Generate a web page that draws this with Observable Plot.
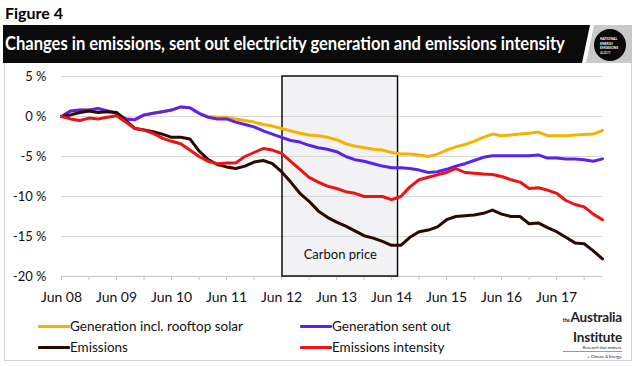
<!DOCTYPE html>
<html><head><meta charset="utf-8">
<script src="https://cdn.jsdelivr.net/npm/d3@7"></script>
<script src="https://cdn.jsdelivr.net/npm/@observablehq/plot@0.6"></script>
<style>
body{margin:0;background:#fff;font-family:Lato,"Open Sans",sans-serif;}
#root{position:relative;width:637px;height:366px;overflow:hidden;background:#fff;}
#fig{position:absolute;left:5px;top:3px;font-weight:700;font-size:16px;color:#000;}
#header{position:absolute;left:0;top:0;}
#title{position:absolute;left:5px;top:32px;font-weight:700;font-size:19px;color:#fff;white-space:nowrap;line-height:22px;transform-origin:0 50%;}
#box{position:absolute;left:4px;top:63px;width:628px;height:298px;border:1px solid #d4d4d4;border-top:none;box-sizing:border-box;}
#chart{position:absolute;left:0;top:63px;}
.leg{position:absolute;font-size:13.5px;color:#111;display:flex;align-items:center;white-space:nowrap;height:16px;}
.leg i{display:inline-block;width:32px;height:3px;border-radius:1px;}
#logo{position:absolute;right:15px;top:309px;text-align:right;color:#222;}
.big{font-size:13.5px;line-height:16.5px;font-weight:700;letter-spacing:-0.2px;white-space:nowrap;}
.small{font-size:4px;line-height:5px;white-space:nowrap;}
</style></head>
<body><div id="root">
<div id="fig">Figure 4</div>
<svg id="header" width="637" height="70">
  <polygon points="3,25 590,25 582,63 3,63" fill="#0b0b0b"/>
  <polygon points="594,25 632,25 632,63 586,63" fill="#c9c9c9"/>
  <circle cx="610" cy="45" r="16" fill="#0a0a0a"/>
  <g font-family="Lato" font-weight="700" font-size="3.4" fill="#fff">
    <text x="600" y="40">NATIONAL</text>
    <text x="600" y="44.6">ENERGY</text>
    <text x="600" y="49.2">EMISSIONS</text>
    <text x="600" y="53.8" fill="#f3b5a8">AUDIT</text>
  </g>
</svg>
<div id="title">Changes in emissions, sent out electricity generation and emissions intensity</div>
<div id="box"></div>
<div id="chart"></div>
<div id="legend"></div>
<div id="logo">
  <div class="big"><span style="font-size:5px;margin-right:1px">the</span>Australia</div>
  <div class="big">Institute</div>
  <div class="small" style="padding-bottom:1px;border-bottom:1px solid #999">Research that matters.</div>
  <div class="small" style="margin-top:2px">+ Climate &amp; Energy.</div>
</div>
</div>
<script>
// months since Jun 2008, sampled every 2 months (to Apr 2018)
const months = d3.range(0, 119, 2);
const genSolar = [0,0.7,0.8,0.8,1.0,0.7,0.4,-0.3,-0.4,0.2,0.4,0.6,0.8,1.2,1.1,0.4,0.0,-0.1,-0.1,-0.3,-0.5,-0.7,-1.0,-1.2,-1.5,-1.8,-2.1,-2.3,-2.4,-2.6,-2.9,-3.4,-3.7,-3.9,-4.1,-4.2,-4.5,-4.7,-4.7,-4.8,-5.0,-4.7,-4.2,-3.8,-3.5,-3.1,-2.6,-2.2,-2.4,-2.3,-2.2,-2.1,-1.95,-2.4,-2.4,-2.4,-2.3,-2.25,-2.2,-1.75];
const genSent = [0,0.7,0.8,0.8,1.0,0.7,0.4,-0.3,-0.4,0.2,0.4,0.6,0.8,1.2,1.1,0.4,-0.1,-0.3,-0.3,-0.7,-1.0,-1.3,-1.8,-2.2,-2.6,-3.0,-3.2,-3.6,-3.9,-4.1,-4.4,-5.0,-5.4,-5.6,-5.9,-6.2,-6.4,-6.4,-6.5,-6.7,-7.0,-6.9,-6.6,-6.2,-5.9,-5.5,-5.1,-4.9,-4.9,-4.9,-4.9,-4.9,-4.8,-5.2,-5.2,-5.3,-5.3,-5.4,-5.6,-5.3];
const emissions = [0,0.2,0.5,0.7,0.5,0.6,0.5,-0.5,-1.5,-1.7,-1.9,-2.2,-2.6,-2.6,-2.8,-4.3,-5.4,-6.0,-6.3,-6.5,-6.2,-5.7,-5.5,-5.9,-6.9,-8.2,-9.6,-10.6,-11.8,-12.6,-13.2,-13.7,-14.3,-14.9,-15.2,-15.6,-16.1,-16.1,-15.1,-14.4,-14.2,-13.8,-12.9,-12.5,-12.4,-12.3,-12.1,-11.7,-12.2,-12.5,-12.5,-13.4,-13.3,-13.9,-14.4,-15.1,-15.8,-15.9,-16.8,-17.8];
const intensity = [0,-0.3,-0.5,-0.2,-0.3,-0.1,0.1,-0.7,-1.5,-1.7,-2.1,-2.7,-3.1,-3.4,-4.2,-5.0,-5.6,-5.9,-5.8,-5.8,-5.0,-4.5,-4.0,-4.2,-4.6,-5.6,-6.6,-7.6,-8.2,-8.7,-9.0,-9.4,-9.6,-10.0,-10.0,-10.0,-10.4,-10.0,-8.8,-7.9,-7.6,-7.3,-7.0,-6.5,-7.0,-7.1,-7.2,-7.25,-7.5,-7.9,-8.2,-9.0,-8.9,-9.2,-9.6,-10.5,-11.0,-11.3,-12.2,-12.9];
const seriesNames = ["Generation incl. rooftop solar","Generation sent out","Emissions","Emissions intensity"];
const seriesColors = ["#f5b300","#5b22ef","#2a0a00","#ee1212"];
const yTicks = [5,0,-5,-10,-15,-20];
const xTickLabels = ["Jun 08","Jun 09","Jun 10","Jun 11","Jun 12","Jun 13","Jun 14","Jun 15","Jun 16","Jun 17"];
const carbonPrice = [{label:"Carbon price", start:48.2, end:73.4}];

// squeeze the title to the band's width (Calibri-like narrowness)
const title = document.getElementById("title");
title.style.transform = `scaleX(${560 / title.scrollWidth})`;

const seriesValues = [genSolar, genSent, emissions, intensity];
const rows = seriesNames.flatMap((name,k)=>months.map((m,i)=>({series:name, month:m, value:seriesValues[k][i]})));

const chart = Plot.plot({
  width:637, height:247, marginTop:13, marginBottom:34, marginLeft:61, marginRight:35,
  style:{fontFamily:"Lato, sans-serif", fontSize:"13px", color:"#000", background:"transparent", overflow:"visible"},
  x:{domain:[0,118], axis:null},
  y:{domain:[-20,5], axis:null},
  color:{domain:seriesNames, range:seriesColors},
  marks:[
    Plot.rect(carbonPrice, {x1:"start", x2:"end", y1:yTicks[yTicks.length-1], y2:yTicks[0], fill:"#f2f2f4"}),
    Plot.ruleY(yTicks.slice(0,-1), {stroke:"#d9d9d9", strokeWidth:1}),
    Plot.ruleY(yTicks.slice(-1), {stroke:"#c4c4c4", strokeWidth:1}),
    Plot.axisX({ticks:d3.range(0,115,6), tickSize:4, tickFormat:()=>"", stroke:"#c4c4c4", label:null}),
    Plot.axisX({ticks:xTickLabels.map((_,i)=>i*12), tickSize:0, tickPadding:16, tickFormat:d=>xTickLabels[Math.round(d/12)], fontSize:14, fill:"#111", label:null}),
    Plot.axisY({ticks:yTicks, tickSize:0, tickPadding:15, tickFormat:d=>`${d} %`, fontSize:13, fill:"#111", label:null}),
    Plot.rect(carbonPrice, {x1:"start", x2:"end", y1:yTicks[yTicks.length-1], y2:yTicks[0], fill:"none", stroke:"#000", strokeWidth:1.4}),
    Plot.text(carbonPrice, {x:d=>(d.start+d.end)/2, text:"label", frameAnchor:"bottom", dy:-18, fontSize:13, fill:"#111"}),
    Plot.line(rows, {x:"month", y:"value", z:"series", stroke:"series", strokeWidth:3, strokeLinejoin:"round"})
  ]
});
document.getElementById("chart").appendChild(chart);

// legend
const legPos = [[38,318],[300,318],[38,339],[300,339]];
const legend = document.getElementById("legend");
seriesNames.forEach((name,k)=>{
  const d = document.createElement("div");
  d.className = "leg";
  d.style.left = legPos[k][0]+"px"; d.style.top = legPos[k][1]+"px";
  d.innerHTML = `<i style="background:${seriesColors[k]}"></i><span>${name}</span>`;
  legend.appendChild(d);
});
</script>
</body></html>
